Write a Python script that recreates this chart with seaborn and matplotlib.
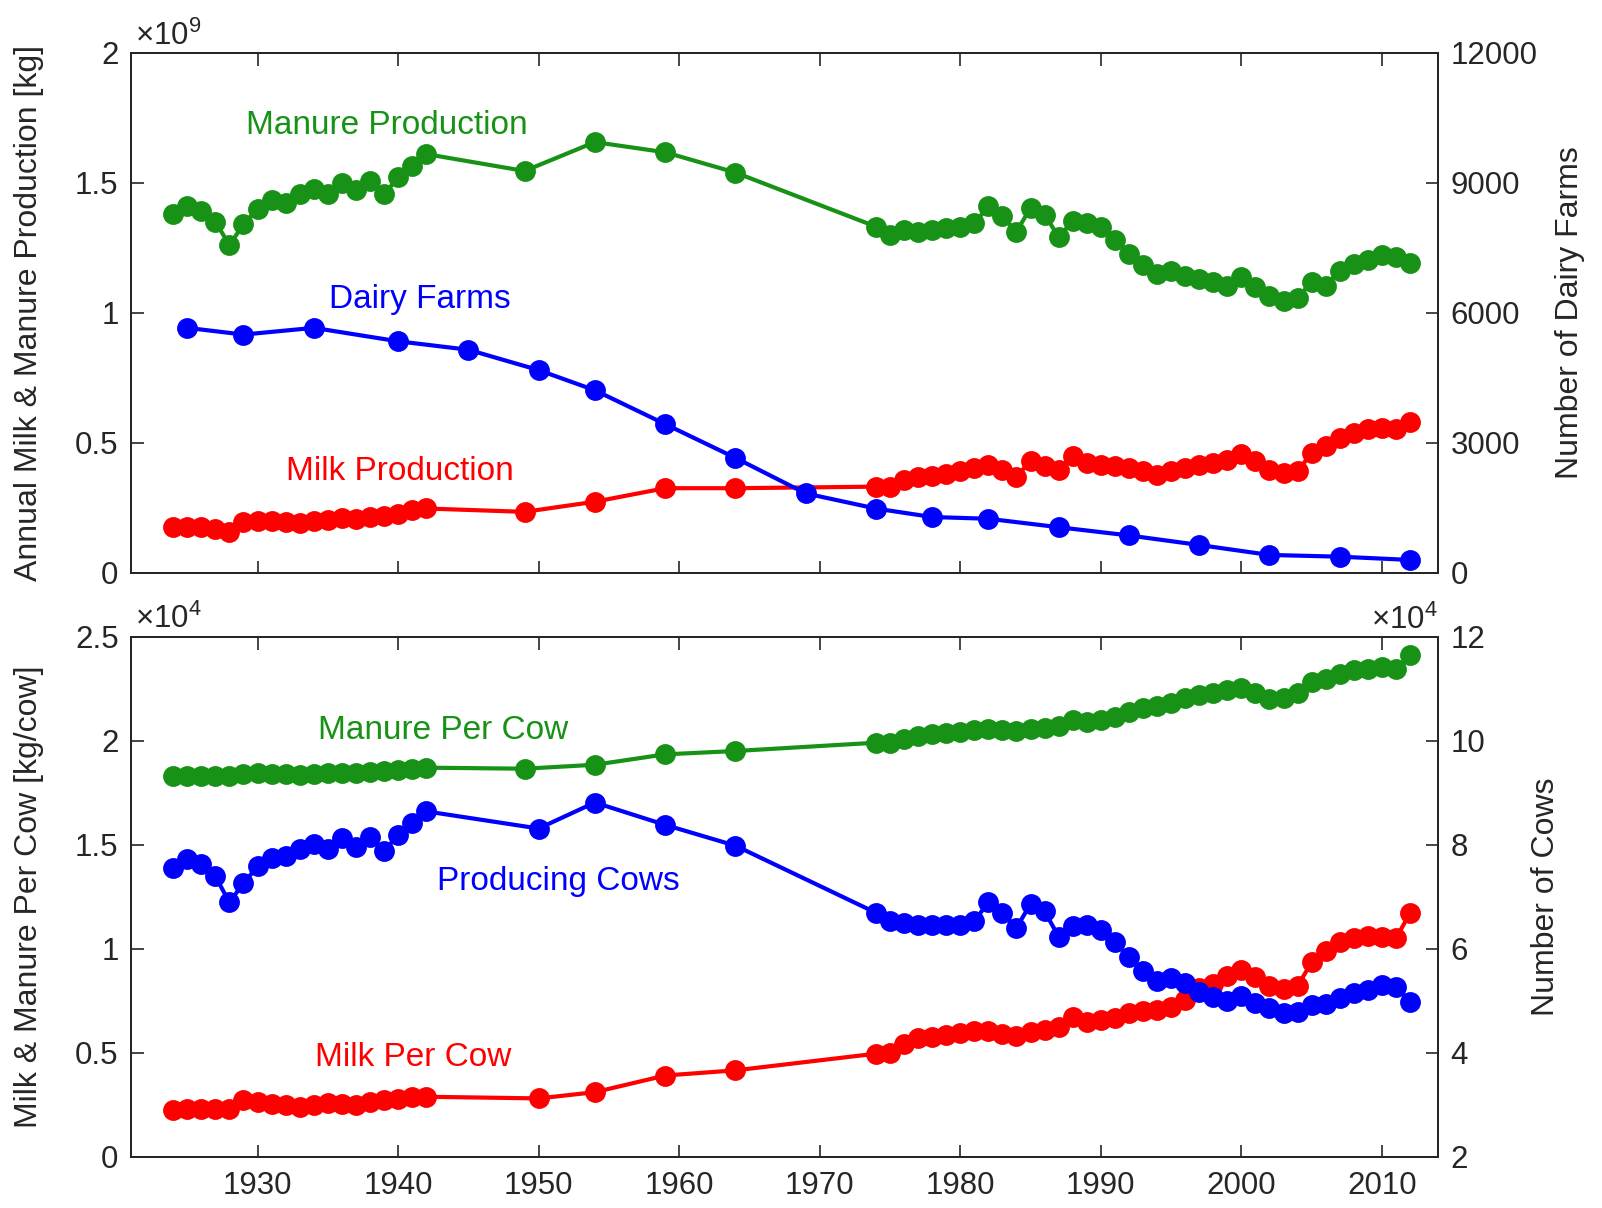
"""Dairy history: milk / manure production, farms and cows (two panels, twin y axes)."""
import numpy as np
import matplotlib
matplotlib.use("Agg")
import matplotlib.pyplot as plt
from matplotlib.ticker import FuncFormatter
import seaborn as sns

# ---- data ---------------------------------------------------------------
early = list(range(1924, 1943))
late = list(range(1974, 2013))

prod_years = early + [1949, 1954, 1959, 1964] + late
cow_years = early + [1950, 1954, 1959, 1964] + late
farm_years = [1925, 1929, 1934, 1940, 1945, 1950, 1954, 1959, 1964, 1969,
              1974, 1978, 1982, 1987, 1992, 1997, 2002, 2007, 2012]

# annual manure / milk production, x1e9 kg
manure_prod = [1.38, 1.41, 1.39, 1.35, 1.26, 1.34, 1.40, 1.435, 1.42, 1.455,
               1.475, 1.455, 1.50, 1.47, 1.505, 1.455, 1.52, 1.565, 1.61,
               1.545, 1.656, 1.617, 1.539,
               1.331, 1.30, 1.318, 1.312, 1.318, 1.325, 1.331, 1.344, 1.409, 1.370,
               1.312, 1.403, 1.377, 1.292, 1.351, 1.344, 1.331, 1.279, 1.227, 1.182,
               1.149, 1.162, 1.143, 1.130, 1.117, 1.104, 1.136, 1.097, 1.065, 1.045,
               1.058, 1.117, 1.104, 1.162, 1.188, 1.201, 1.221, 1.214, 1.19]
milk_prod = [0.175, 0.175, 0.177, 0.17, 0.157, 0.195, 0.20, 0.198, 0.195, 0.19,
             0.20, 0.202, 0.21, 0.205, 0.215, 0.22, 0.227, 0.24, 0.247,
             0.234, 0.273, 0.325, 0.325,
             0.331, 0.33, 0.357, 0.37, 0.372, 0.38, 0.39, 0.403, 0.416, 0.396,
             0.37, 0.429, 0.409, 0.396, 0.448, 0.422, 0.416, 0.409, 0.403, 0.39,
             0.377, 0.39, 0.403, 0.416, 0.422, 0.435, 0.455, 0.429, 0.396, 0.383,
             0.39, 0.461, 0.487, 0.519, 0.539, 0.552, 0.558, 0.552, 0.578]
dairy_farms = [5650, 5495, 5650, 5340, 5145, 4675, 4210, 3430, 2650, 1830,
               1480, 1285, 1245, 1050, 860, 640, 410, 370, 295]

# per-cow values, x1e4 kg/cow ; producing cows, x1e4
manure_per_cow = [1.83, 1.83, 1.83, 1.83, 1.83, 1.84, 1.845, 1.84, 1.84, 1.835,
                  1.84, 1.845, 1.845, 1.845, 1.85, 1.855, 1.86, 1.865, 1.87,
                  1.865, 1.884, 1.934, 1.95,
                  1.99, 1.99, 2.01, 2.02, 2.03, 2.035, 2.04, 2.05, 2.055, 2.05,
                  2.045, 2.055, 2.06, 2.07, 2.10, 2.09, 2.10, 2.115, 2.14, 2.155,
                  2.165, 2.18, 2.205, 2.22, 2.23, 2.245, 2.255, 2.23, 2.20, 2.205,
                  2.23, 2.28, 2.295, 2.32, 2.34, 2.345, 2.355, 2.345, 2.41]
milk_per_cow = [0.225, 0.228, 0.23, 0.23, 0.228, 0.27, 0.262, 0.255, 0.25, 0.24,
                0.25, 0.258, 0.255, 0.25, 0.262, 0.272, 0.275, 0.285, 0.288,
                0.28, 0.31, 0.39, 0.415,
                0.495, 0.50, 0.54, 0.57, 0.575, 0.585, 0.595, 0.605, 0.605, 0.59,
                0.58, 0.60, 0.61, 0.625, 0.67, 0.645, 0.655, 0.665, 0.69, 0.70,
                0.705, 0.72, 0.755, 0.81, 0.83, 0.87, 0.895, 0.865, 0.82, 0.805,
                0.82, 0.935, 0.99, 1.03, 1.05, 1.06, 1.055, 1.05, 1.17]
producing_cows = [7.55, 7.72, 7.62, 7.39, 6.89, 7.26, 7.58, 7.75, 7.78, 7.92,
                  8.02, 7.92, 8.12, 7.95, 8.15, 7.88, 8.18, 8.41, 8.64,
                  8.31, 8.81, 8.38, 7.98,
                  6.69, 6.53, 6.50, 6.46, 6.46, 6.46, 6.46, 6.53, 6.89, 6.69,
                  6.40, 6.86, 6.72, 6.23, 6.43, 6.46, 6.36, 6.13, 5.83, 5.57,
                  5.37, 5.43, 5.34, 5.17, 5.07, 5.00, 5.08, 4.95, 4.85, 4.76,
                  4.79, 4.92, 4.93, 5.05, 5.14, 5.21, 5.30, 5.27, 4.98]

GREEN, RED, BLUE = "#179217", "#ff0000", "#0000ff"
GREY = "#262626"

sns.set_theme(style="white")
plt.rcParams["font.family"] = ["Liberation Sans", "DejaVu Sans"]
plt.rcParams["mathtext.fontset"] = "custom"
plt.rcParams["mathtext.rm"] = "Liberation Sans"
plt.rcParams["mathtext.default"] = "regular"

FS = 22.5


def draw(ax, x, y, colour):
    sns.lineplot(x=x, y=y, ax=ax, color=colour, linewidth=3, marker="o",
                 markersize=13, markeredgewidth=2, markeredgecolor=colour,
                 estimator=None, sort=False, legend=False)


def style(ax, axr, ylim, yticks, rlim, rticks, show_x):
    ax.set_xlim(1921, 2014)
    ax.set_xticks(range(1930, 2011, 10))
    ax.set_ylim(*ylim)
    ax.set_yticks(yticks)
    ax.yaxis.set_major_formatter(FuncFormatter(lambda v, _: f"{v:g}"))
    axr.set_ylim(*rlim)
    axr.set_yticks(rticks)
    axr.yaxis.set_major_formatter(FuncFormatter(lambda v, _: f"{v:g}"))
    ax.tick_params(axis="x", direction="in", top=True, bottom=True, length=9,
                   width=1.2, pad=10, labelsize=FS, colors=GREY,
                   labelbottom=show_x)
    ax.tick_params(axis="y", direction="in", left=True, right=False, length=9,
                   width=1.2, pad=9, labelsize=FS, colors=GREY)
    axr.tick_params(axis="y", direction="in", right=True, left=False, length=9,
                    width=1.2, pad=9, labelsize=FS, colors=GREY)
    for a in (ax, axr):
        a.set_xlabel("")
        a.set_ylabel("")
        for sp in a.spines.values():
            sp.set_color(GREY)
            sp.set_linewidth(1.4)


fig = plt.figure(figsize=(16.02, 12.08), dpi=100)
top = fig.add_axes([0.0818, 0.5259, 0.8159, 0.4305])
bot = fig.add_axes([0.0818, 0.0425, 0.8159, 0.4305])
topr = top.twinx()
botr = bot.twinx()

# top panel
draw(top, prod_years, manure_prod, GREEN)
draw(top, prod_years, milk_prod, RED)
draw(topr, farm_years, dairy_farms, BLUE)
style(top, topr, (0, 2), [0, 0.5, 1, 1.5, 2], (0, 12000),
      [0, 3000, 6000, 9000, 12000], False)

# bottom panel
draw(bot, prod_years, manure_per_cow, GREEN)
draw(bot, cow_years, milk_per_cow, RED)
draw(botr, cow_years, producing_cows, BLUE)
style(bot, botr, (0, 2.5), [0, 0.5, 1, 1.5, 2, 2.5], (2, 12),
      [2, 4, 6, 8, 10, 12], True)

# series labels
TS = 24
top.text(1929.2, 1.688, "Manure Production", color=GREEN, fontsize=TS)
top.text(1935.1, 1.019, "Dairy Farms", color=BLUE, fontsize=TS)
top.text(1932.0, 0.357, "Milk Production", color=RED, fontsize=TS)
bot.text(1934.3, 2.008, "Manure Per Cow", color=GREEN, fontsize=TS)
bot.text(1942.8, 1.281, "Producing Cows", color=BLUE, fontsize=TS)
bot.text(1934.1, 0.437, "Milk Per Cow", color=RED, fontsize=TS)

# exponent markers
top.text(0.003, 1.015, "×10$^{9}$", transform=top.transAxes, ha="left",
         va="baseline", fontsize=FS, color=GREY)
bot.text(0.003, 1.016, "×10$^{4}$", transform=bot.transAxes, ha="left",
         va="baseline", fontsize=FS, color=GREY)
botr.text(1.0, 1.014, "×10$^{4}$", transform=botr.transAxes, ha="right",
          va="baseline", fontsize=FS, color=GREY)

# axis titles
fig.text(29 / 1602, 1 - 312.7 / 1208, "Annual Milk & Manure Production [kg]",
         rotation=90, ha="center", va="center", fontsize=23, color=GREY)
fig.text(1570 / 1602, 1 - 312.7 / 1208, "Number of Dairy Farms",
         rotation=90, ha="center", va="center", fontsize=23, color=GREY)
fig.text(29 / 1602, 1 - 896.7 / 1208, "Milk & Manure Per Cow [kg/cow]",
         rotation=90, ha="center", va="center", fontsize=23, color=GREY)
fig.text(1546 / 1602, 1 - 896.7 / 1208, "Number of Cows",
         rotation=90, ha="center", va="center", fontsize=23, color=GREY)

fig.savefig("out.png", dpi=100)
plt.close(fig)
